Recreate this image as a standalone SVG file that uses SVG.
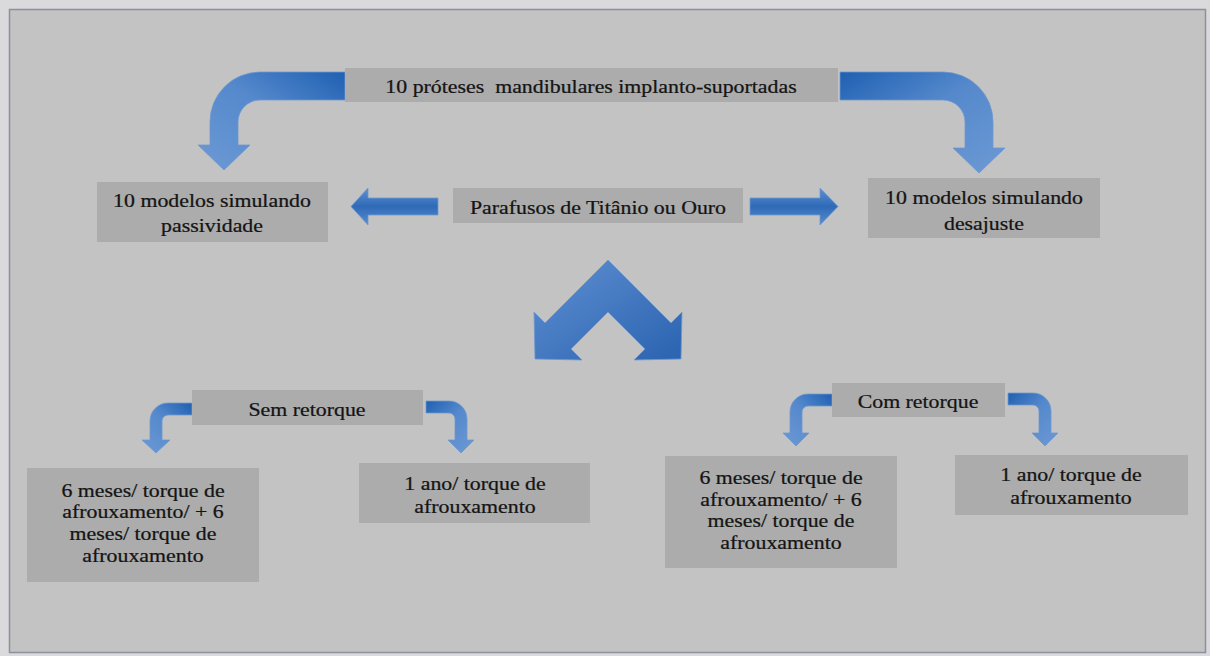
<svg xmlns="http://www.w3.org/2000/svg" width="1210" height="656" viewBox="0 0 1210 656">
  <style>
    .box { fill: #acacac; }
    .t { font-family: "Liberation Serif", "Times New Roman", serif; font-size: 19px; fill: #141414; stroke: #141414; stroke-width: 0.25; text-anchor: middle; white-space: pre; }
    .arr { stroke: #6e98cf; stroke-width: 0.8; }
  </style>
  <defs>
    <linearGradient id="gL" x1="1" y1="0" x2="0" y2="1">
      <stop offset="0" stop-color="#1f60b2"/>
      <stop offset="0.45" stop-color="#5589cc"/>
      <stop offset="1" stop-color="#6c99d4"/>
    </linearGradient>
    <linearGradient id="gR" x1="0" y1="0" x2="1" y2="1">
      <stop offset="0" stop-color="#1f60b2"/>
      <stop offset="0.45" stop-color="#5589cc"/>
      <stop offset="1" stop-color="#6c99d4"/>
    </linearGradient>
    <linearGradient id="gH" x1="0" y1="0" x2="0" y2="1">
      <stop offset="0" stop-color="#5e90d2"/>
      <stop offset="0.5" stop-color="#2f6ab7"/>
      <stop offset="1" stop-color="#5b8ccf"/>
    </linearGradient>
    <linearGradient id="gC" x1="0" y1="0" x2="1" y2="1">
      <stop offset="0" stop-color="#5f8fd1"/>
      <stop offset="1" stop-color="#2a63b0"/>
    </linearGradient>
  </defs>

  <rect x="0" y="0" width="1210" height="656" fill="#dadadc"/>
  <rect x="9.5" y="9.5" width="1196" height="643" fill="#c3c3c3" stroke="#8a909c" stroke-width="1.5"/>

  <g id="connectors">
    <path class="arr" fill="url(#gL)" d="M345,72 L260,72 A50,50 0 0 0 210,122 L210,145 L198,145 L224,170 L250,145 L238,145 L238,122 A22,22 0 0 1 260,100 L345,100 Z"/>
    <path class="arr" fill="url(#gR)" d="M840,72 L943,72 A50,50 0 0 1 993,122 L993,148 L1005,148 L979,173 L953,148 L965,148 L965,122 A22,22 0 0 0 943,100 L840,100 Z"/>
    <path class="arr" fill="url(#gH)" d="M438,198 L368,198 L368,188 L351,206.5 L368,225 L368,215 L438,215 Z"/>
    <path class="arr" fill="url(#gH)" d="M750,198 L820,198 L820,188 L838,206.5 L820,225 L820,215 L750,215 Z"/>
    <path class="arr" fill="url(#gC)" d="M608,260 L671,323 L682,312 L681,359 L634,360 L645,349 L608,312 L571,349 L582,360 L535,359 L534,312 L545,323 Z"/>
    <path class="arr" fill="url(#gL)" d="M192,403 L168,403 A18,18 0 0 0 150,421 L150,440 L142,440 L156,453 L170,440 L162,440 L162,421 A6,6 0 0 1 168,415 L192,415 Z"/>
    <path class="arr" fill="url(#gR)" d="M426,401 L449,401 A18,18 0 0 1 467,419 L467,440 L474,440 L461,453 L448,440 L455,440 L455,419 A6,6 0 0 0 449,413 L426,413 Z"/>
    <path class="arr" fill="url(#gL)" d="M832,394 L808,394 A18,18 0 0 0 790,412 L790,433 L783,433 L796,446 L809,433 L802,433 L802,412 A6,6 0 0 1 808,406 L832,406 Z"/>
    <path class="arr" fill="url(#gR)" d="M1008,393 L1033,393 A18,18 0 0 1 1051,411 L1051,433 L1058,433 L1045,446 L1032,433 L1039,433 L1039,411 A6,6 0 0 0 1033,405 L1008,405 Z"/>
  </g>

  <g id="n-proteses">
    <rect class="box" x="345" y="68" width="493" height="34"/>
    <text class="t" transform="translate(591,93) scale(1.15,1)">10 próteses  mandibulares implanto-suportadas</text>
  </g>
  <g id="n-passividade">
    <rect class="box" x="97" y="182" width="231" height="60"/>
    <text class="t" transform="translate(212,207) scale(1.15,1)">10 modelos simulando</text>
    <text class="t" transform="translate(212,232) scale(1.15,1)">passividade</text>
  </g>
  <g id="n-parafusos">
    <rect class="box" x="453" y="188" width="290" height="35"/>
    <text class="t" transform="translate(598,214) scale(1.15,1)">Parafusos de Titânio ou Ouro</text>
  </g>
  <g id="n-desajuste">
    <rect class="box" x="868" y="178" width="232" height="60"/>
    <text class="t" transform="translate(984,204) scale(1.15,1)">10 modelos simulando</text>
    <text class="t" transform="translate(984,230) scale(1.15,1)">desajuste</text>
  </g>
  <g id="n-sem">
    <rect class="box" x="192" y="390" width="231" height="35"/>
    <text class="t" transform="translate(307,416) scale(1.15,1)">Sem retorque</text>
  </g>
  <g id="n-com">
    <rect class="box" x="832" y="383" width="173" height="34"/>
    <text class="t" transform="translate(918,408) scale(1.15,1)">Com retorque</text>
  </g>
  <g id="n-sem-6m">
    <rect class="box" x="27" y="468" width="232" height="114"/>
    <text class="t" transform="translate(143,497) scale(1.15,1)">6 meses/ torque de</text>
    <text class="t" transform="translate(143,518) scale(1.15,1)">afrouxamento/ + 6</text>
    <text class="t" transform="translate(143,540) scale(1.15,1)">meses/ torque de</text>
    <text class="t" transform="translate(143,562) scale(1.15,1)">afrouxamento</text>
  </g>
  <g id="n-sem-1a">
    <rect class="box" x="359" y="463" width="231" height="60"/>
    <text class="t" transform="translate(475,490) scale(1.15,1)">1 ano/ torque de</text>
    <text class="t" transform="translate(475,513) scale(1.15,1)">afrouxamento</text>
  </g>
  <g id="n-com-6m">
    <rect class="box" x="665" y="456" width="232" height="112"/>
    <text class="t" transform="translate(781,484) scale(1.15,1)">6 meses/ torque de</text>
    <text class="t" transform="translate(781,506) scale(1.15,1)">afrouxamento/ + 6</text>
    <text class="t" transform="translate(781,527) scale(1.15,1)">meses/ torque de</text>
    <text class="t" transform="translate(781,549) scale(1.15,1)">afrouxamento</text>
  </g>
  <g id="n-com-1a">
    <rect class="box" x="955" y="455" width="233" height="60"/>
    <text class="t" transform="translate(1071,481) scale(1.15,1)">1 ano/ torque de</text>
    <text class="t" transform="translate(1071,504) scale(1.15,1)">afrouxamento</text>
  </g>
</svg>
